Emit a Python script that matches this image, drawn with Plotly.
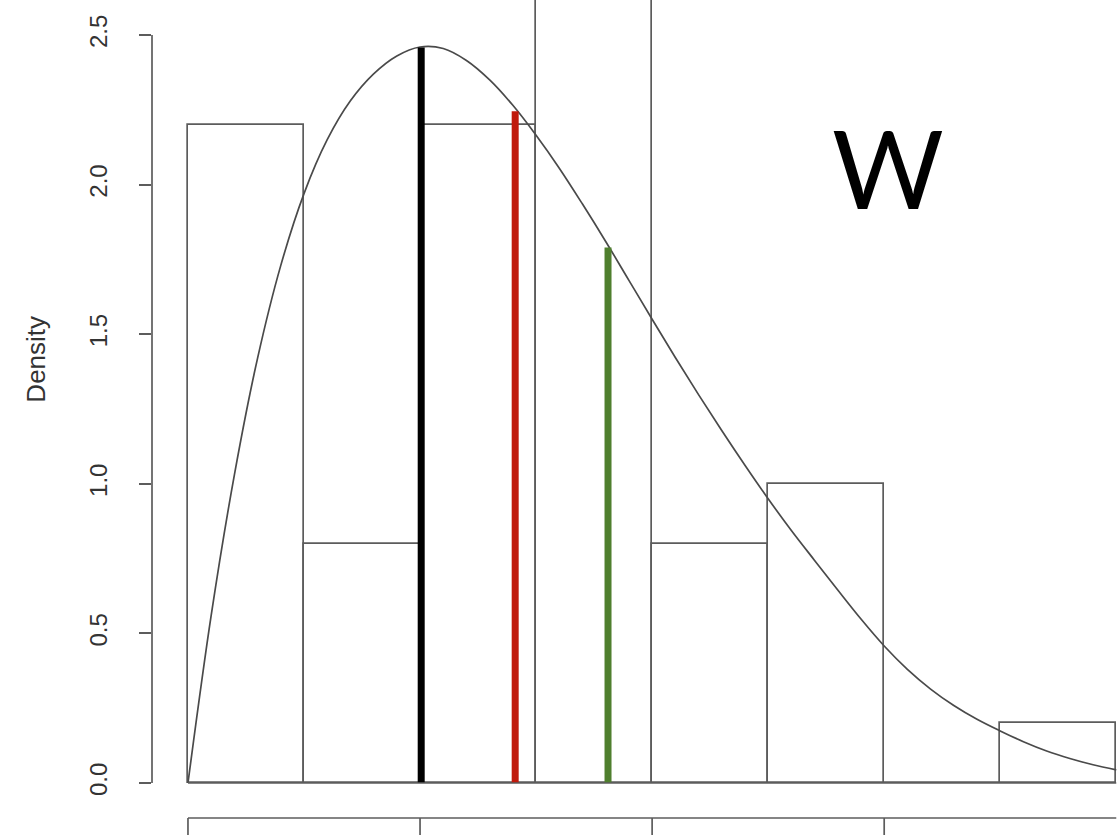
import plotly.graph_objects as go

# Histogram of W (density scale), bin width 0.1
bin_lefts = [0.0, 0.1, 0.2, 0.3, 0.4, 0.5, 0.6, 0.7]
bin_density = [2.2, 0.8, 2.2, 2.8, 0.8, 1.0, 0.0, 0.2]
bin_width = 0.1

# Fitted density curve, sampled every 0.02
curve_x = [0.00, 0.02, 0.04, 0.06, 0.08, 0.10, 0.12, 0.14, 0.16, 0.18, 0.20,
           0.22, 0.24, 0.26, 0.28, 0.30, 0.32, 0.34, 0.36, 0.38, 0.40,
           0.42, 0.44, 0.46, 0.48, 0.50, 0.52, 0.54, 0.56, 0.58, 0.60,
           0.62, 0.64, 0.66, 0.68, 0.70, 0.72, 0.74, 0.76, 0.78, 0.80]
curve_y = [0.000, 0.560, 1.030, 1.420, 1.730, 1.970, 2.150, 2.280, 2.370, 2.430, 2.460,
           2.455, 2.415, 2.350, 2.265, 2.165, 2.055, 1.935, 1.810, 1.680, 1.550,
           1.422, 1.298, 1.178, 1.062, 0.950, 0.844, 0.744, 0.645, 0.548, 0.458,
           0.380, 0.314, 0.259, 0.213, 0.174, 0.138, 0.107, 0.082, 0.061, 0.044]

# Mode, median and mean markers (drawn up to the density curve)
stat_names = ["mode", "median", "mean"]
stat_x = [0.201, 0.282, 0.362]
stat_y = [2.458, 2.245, 1.79]
stat_colors = ["#000000", "#c01a0c", "#4f7f2e"]

y_ticks = [0.0, 0.5, 1.0, 1.5, 2.0, 2.5]
y_ticktext = ["0.0", "0.5", "1.0", "1.5", "2.0", "2.5"]

# Cell boundaries of the panel underneath
lower_panel_breaks = [0.0, 0.2, 0.4, 0.6]

fig = go.Figure()

fig.add_trace(go.Bar(
    x=[l + bin_width / 2 for l in bin_lefts], y=bin_density, width=bin_width,
    marker=dict(color="white", line=dict(color="#5c5c5c", width=1.7)),
    showlegend=False, hoverinfo="skip"))

fig.add_trace(go.Scatter(
    x=curve_x, y=curve_y, mode="lines",
    line=dict(color="#4a4a4a", width=1.7, shape="spline", smoothing=1),
    showlegend=False, hoverinfo="skip"))

for name, sx, sy, col in zip(stat_names, stat_x, stat_y, stat_colors):
    fig.add_trace(go.Scatter(
        x=[sx, sx], y=[0, sy], mode="lines", line=dict(color=col, width=7),
        name=name, showlegend=False, hoverinfo="skip"))

# zero line of the histogram (empty bins included)
fig.add_shape(type="line", x0=bin_lefts[0], x1=bin_lefts[-1] + bin_width, y0=0, y1=0,
              line=dict(color="#5c5c5c", width=1.7))

# y axis line spanning the tick range
fig.add_shape(type="line", xref="paper", x0=0, x1=0, yref="y", y0=y_ticks[0], y1=y_ticks[-1],
              line=dict(color="#5c5c5c", width=1.7))

# top edge of the lower panel
lower_top = -0.117
fig.add_shape(type="line", x0=lower_panel_breaks[0], x1=0.8, y0=lower_top, y1=lower_top,
              line=dict(color="#5c5c5c", width=1.7))
for b in lower_panel_breaks:
    fig.add_shape(type="line", x0=b, x1=b, y0=lower_top, y1=-0.2,
                  line=dict(color="#5c5c5c", width=1.7))

fig.add_annotation(text="W", x=0.6035, y=2.06, xref="x", yref="y", showarrow=False,
                   font=dict(family="Lato", size=108, color="#000000"))

fig.add_annotation(text="Density", xref="paper", yref="y", x=(36 - 152) / 966, y=1.415,
                   textangle=-90, showarrow=False, xanchor="center", yanchor="middle",
                   font=dict(family="Liberation Sans", size=26, color="#333333"))

fig.update_xaxes(range=[-0.031, 0.8015], visible=False, showgrid=False, zeroline=False)
fig.update_yaxes(range=[-0.1738, 2.617], showgrid=False, zeroline=False, showline=False,
                 tickmode="array", tickvals=y_ticks, ticktext=y_ticktext,
                 ticks="outside", ticklen=12, tickwidth=1.7, tickcolor="#5c5c5c",
                 tickangle=-90, ticklabelstandoff=22,
                 tickfont=dict(family="Liberation Sans", size=24, color="#333333"))

fig.update_layout(
    width=1118, height=835, autosize=False,
    margin=dict(l=152, r=0, t=0, b=0),
    paper_bgcolor="white", plot_bgcolor="white",
    bargap=0,
)

fig.write_html("out.html")
